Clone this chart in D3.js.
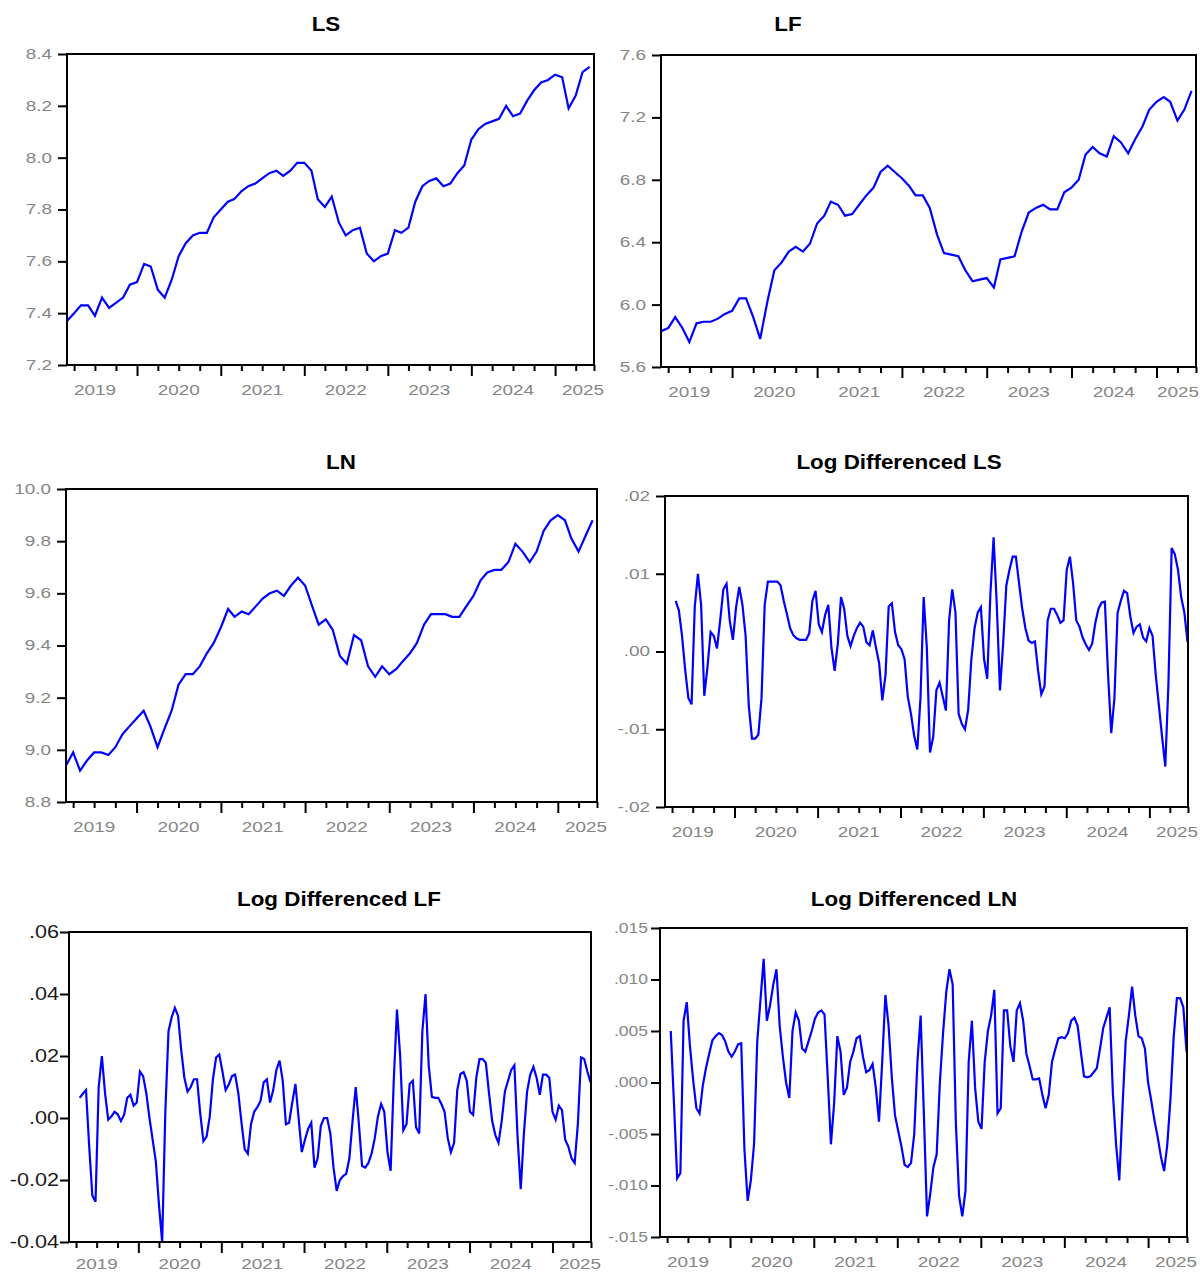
<!DOCTYPE html>
<html>
<head>
<meta charset="utf-8">
<script src="https://cdn.jsdelivr.net/npm/d3@7"></script>
<style>
  body { margin: 0; background: #fff; }
  svg { display: block; }
</style>
</head>
<body>
<svg id="chart" width="1200" height="1272"></svg>
<script>
// ---- Level series (log scale), monthly observations from March 2019 ----
const lsValues = [
  7.37, 7.40, 7.43, 7.43, 7.39, 7.46, 7.42, 7.44, 7.46, 7.51,
  7.52, 7.59, 7.58, 7.49, 7.46, 7.53, 7.62, 7.67, 7.70, 7.71,
  7.71, 7.77, 7.80, 7.83, 7.84, 7.87, 7.89, 7.90, 7.92, 7.94,
  7.95, 7.93, 7.95, 7.98, 7.98, 7.95, 7.84, 7.81, 7.85, 7.75,
  7.70, 7.72, 7.73, 7.63, 7.60, 7.62, 7.63, 7.72, 7.71, 7.73,
  7.83, 7.89, 7.91, 7.92, 7.89, 7.90, 7.94, 7.97, 8.07, 8.11,
  8.13, 8.14, 8.15, 8.20, 8.16, 8.17, 8.22, 8.26, 8.29, 8.30,
  8.32, 8.31, 8.19, 8.24, 8.33, 8.35
];
const lfValues = [
  5.83, 5.85, 5.92, 5.85, 5.76, 5.88, 5.89, 5.89, 5.91, 5.94,
  5.96, 6.04, 6.04, 5.92, 5.78, 6.02, 6.22, 6.27, 6.34, 6.37,
  6.34, 6.39, 6.52, 6.57, 6.66, 6.64, 6.57, 6.58, 6.64, 6.70,
  6.75, 6.85, 6.89, 6.85, 6.81, 6.76, 6.70, 6.70, 6.62, 6.45,
  6.33, 6.32, 6.31, 6.22, 6.15, 6.16, 6.17, 6.11, 6.29, 6.30,
  6.31, 6.47, 6.59, 6.62, 6.64, 6.61, 6.61, 6.72, 6.75, 6.80,
  6.96, 7.01, 6.97, 6.95, 7.08, 7.04, 6.97, 7.06, 7.14, 7.25,
  7.30, 7.33, 7.30, 7.18, 7.25, 7.37
];
const lnValues = [
  8.94, 8.99, 8.92, 8.96, 8.99, 8.99, 8.98, 9.01, 9.06, 9.09,
  9.12, 9.15, 9.09, 9.01, 9.08, 9.15, 9.25, 9.29, 9.29, 9.32,
  9.37, 9.41, 9.47, 9.54, 9.51, 9.53, 9.52, 9.55, 9.58, 9.60,
  9.61, 9.59, 9.63, 9.66, 9.63, 9.55, 9.48, 9.50, 9.46, 9.36,
  9.33, 9.44, 9.42, 9.32, 9.28, 9.32, 9.29, 9.31, 9.34, 9.37,
  9.41, 9.48, 9.52, 9.52, 9.52, 9.51, 9.51, 9.55, 9.59, 9.65,
  9.68, 9.69, 9.69, 9.72, 9.79, 9.76, 9.72, 9.76, 9.84, 9.88,
  9.90, 9.88, 9.81, 9.76, 9.82, 9.88
];

// ---- Log-differenced series, fortnightly observations from mid-April 2019 ----
const dlsValues = [
  .0065, .0053, .0020, -.0024, -.0060, -.0068, .0057, .0100, .0060, -.0057,
  -.0020, .0025, .0020, .0004, .0040, .0080, .0087, .0040, .0015, .0057,
  .0083, .0060, .0020, -.0070, -.0112, -.0112, -.0107, -.0060, .0060, .0090,
  .0090, .0090, .0090, .0085, .0065, .0048, .0030, .0021, .0017, .0015,
  .0015, .0015, .0023, .0065, .0078, .0035, .0025, .0047, .0060, .0005,
  -.0025, .0010, .0070, .0055, .0020, .0007, .0020, .0030, .0037, .0032,
  .0012, .0008, .0027, .0005, -.0015, -.0063, -.0030, .0058, .0062, .0025,
  .0008, .0003, -.0010, -.0058, -.0080, -.0108, -.0126, -.0060, .0070, .0005,
  -.0130, -.0110, -.0050, -.0040, -.0058, -.0076, .0040, .0080, .0050, -.0080,
  -.0093, -.0100, -.0075, -.0010, .0030, .0050, .0057, -.0010, -.0035, .0075,
  .0147, .0060, -.0050, .0010, .0085, .0105, .0122, .0122, .0088, .0055,
  .0030, .0014, .0011, .0013, -.0025, -.0055, -.0045, .0040, .0055, .0055,
  .0047, .0037, .0040, .0105, .0122, .0088, .0040, .0032, .0018, .0009,
  .0002, .0010, .0037, .0055, .0063, .0064, -.0030, -.0105, -.0060, .0050,
  .0065, .0078, .0075, .0045, .0024, .0032, .0035, .0018, .0013, .0030,
  .0020, -.0030, -.0070, -.0110, -.0148, -.0040, .0133, .0125, .0105, .0070,
  .0050, .0012
];
const dlfValues = [
  .0065, .0078, .0090, -.0090, -.0250, -.0270, .0100, .0200, .0080, -.0005,
  .0005, .0020, .0012, -.0010, .0010, .0065, .0075, .0040, .0050, .0150,
  .0135, .0080, .0000, -.0070, -.0140, -.0280, -.0400, .0020, .0280, .0325,
  .0355, .0330, .0220, .0130, .0085, .0100, .0125, .0125, .0015, -.0075,
  -.0060, .0005, .0125, .0195, .0205, .0150, .0090, .0108, .0135, .0140,
  .0080, -.0015, -.0100, -.0115, -.0020, .0020, .0035, .0055, .0115, .0125,
  .0050, .0090, .0155, .0185, .0120, -.0020, -.0015, .0050, .0110, .0000,
  -.0110, -.0070, -.0035, -.0015, -.0160, -.0130, -.0025, .0000, .0000, -.0050,
  -.0160, -.0235, -.0200, -.0187, -.0180, -.0130, -.0010, .0100, -.0020, -.0155,
  -.0160, -.0145, -.0115, -.0065, .0005, .0045, .0020, -.0110, -.0170, .0125,
  .0350, .0200, -.0040, -.0020, .0110, .0120, -.0030, -.0050, .0280, .0400,
  .0170, .0068, .0065, .0065, .0045, .0020, -.0065, -.0110, -.0080, .0090,
  .0142, .0148, .0120, .0020, .0010, .0130, .0190, .0190, .0178, .0080,
  -.0010, -.0055, -.0080, -.0010, .0085, .0120, .0155, .0170, -.0060, -.0230,
  -.0050, .0085, .0140, .0165, .0130, .0075, .0140, .0140, .0130, .0020,
  -.0005, .0040, .0025, -.0070, -.0092, -.0130, -.0145, -.0020, .0195, .0190,
  .0150, .0115
];
const dlnValues = [
  .0050, -.0020, -.0093, -.0088, .0060, .0078, .0035, .0002, -.0025, -.0030,
  -.0003, .0014, .0028, .0041, .0045, .0048, .0046, .0040, .0030, .0025,
  .0030, .0037, .0038, -.0065, -.0115, -.0095, -.0060, .0040, .0080, .0120,
  .0060, .0075, .0095, .0110, .0055, .0025, .0000, -.0015, .0050, .0068,
  .0060, .0033, .0030, .0040, .0050, .0062, .0068, .0070, .0066, .0005,
  -.0060, -.0020, .0045, .0030, -.0012, -.0005, .0020, .0030, .0043, .0045,
  .0025, .0010, .0012, .0018, -.0005, -.0038, .0020, .0085, .0055, .0005,
  -.0032, -.0047, -.0062, -.0080, -.0082, -.0078, -.0050, .0020, .0065, -.0030,
  -.0130, -.0108, -.0082, -.0070, .0000, .0048, .0088, .0110, .0095, -.0040,
  -.0110, -.0130, -.0105, .0020, .0060, -.0005, -.0038, -.0045, .0020, .0050,
  .0065, .0090, -.0030, -.0025, .0070, .0070, .0035, .0020, .0070, .0077,
  .0060, .0028, .0016, .0003, .0003, .0004, -.0012, -.0025, -.0012, .0020,
  .0032, .0043, .0044, .0043, .0048, .0060, .0063, .0055, .0030, .0006,
  .0005, .0006, .0010, .0014, .0033, .0053, .0063, .0073, -.0010, -.0060,
  -.0095, -.0025, .0040, .0065, .0093, .0065, .0045, .0043, .0033, .0000,
  -.0018, -.0037, -.0053, -.0072, -.0086, -.0060, -.0015, .0045, .0082, .0082,
  .0073, .0030
];

// ---- Axis ticks and labels ----
const yearLabels = ["2019", "2020", "2021", "2022", "2023", "2024", "2025"];
const lsTicks = [7.2, 7.4, 7.6, 7.8, 8.0, 8.2, 8.4];
const lsTickLabels = ["7.2", "7.4", "7.6", "7.8", "8.0", "8.2", "8.4"];
const lfTicks = [5.6, 6.0, 6.4, 6.8, 7.2, 7.6];
const lfTickLabels = ["5.6", "6.0", "6.4", "6.8", "7.2", "7.6"];
const lnTicks = [8.8, 9.0, 9.2, 9.4, 9.6, 9.8, 10.0];
const lnTickLabels = ["8.8", "9.0", "9.2", "9.4", "9.6", "9.8", "10.0"];
const dlsTicks = [-0.02, -0.01, 0, 0.01, 0.02];
const dlsTickLabels = ["-.02", "-.01", ".00", ".01", ".02"];
const dlfTicks = [-0.04, -0.02, 0, 0.02, 0.04, 0.06];
const dlfTickLabels = ["-0.04", "-0.02", ".00", ".02", ".04", ".06"];
const dlnTicks = [-0.015, -0.010, -0.005, 0, 0.005, 0.010, 0.015];
const dlnTickLabels = ["-.015", "-.010", "-.005", ".000", ".005", ".010", ".015"];

// observation dates
const levelDates = lsValues.map((_, i) => d3.timeMonth.offset(new Date(2019, 2, 1), i));
const diffDates = dlsValues.map((_, i) => d3.timeDay.offset(new Date(2019, 3, 17), 14 * i));

const xStart = new Date(2019, 2, 1);
const xEnd = new Date(2025, 5, 20);

const WIDTH = 1200, HEIGHT = 1272;
const grayLabel = { size: 14, color: "#858585", sx: 1.35, gap: 15 };

const panels = [
  { title: "LS", tx: 326, ty: 31, values: lsValues, dates: levelDates,
    yDomain: [7.2, 8.4], ticks: lsTicks, tickLabels: lsTickLabels,
    box: { l: 67, t: 54, r: 594, b: 365 }, yLab: grayLabel },
  { title: "LF", tx: 788, ty: 31, values: lfValues, dates: levelDates,
    yDomain: [5.6, 7.6], ticks: lfTicks, tickLabels: lfTickLabels,
    box: { l: 661, t: 55, r: 1196, b: 367 }, yLab: grayLabel },
  { title: "LN", tx: 341, ty: 469, values: lnValues, dates: levelDates,
    yDomain: [8.8, 10.0], ticks: lnTicks, tickLabels: lnTickLabels,
    box: { l: 66, t: 489, r: 597, b: 802 }, yLab: grayLabel },
  { title: "Log Differenced LS", tx: 899, ty: 469, values: dlsValues, dates: diffDates,
    yDomain: [-0.02, 0.02], ticks: dlsTicks, tickLabels: dlsTickLabels,
    box: { l: 665, t: 496, r: 1188, b: 807 }, yLab: grayLabel },
  { title: "Log Differenced LF", tx: 339, ty: 906, values: dlfValues, dates: diffDates,
    yDomain: [-0.04, 0.06], ticks: dlfTicks, tickLabels: dlfTickLabels,
    box: { l: 69, t: 932, r: 591, b: 1242 },
    yLab: { size: 18, color: "#1a1a1a", sx: 1.2, gap: 10 } },
  { title: "Log Differenced LN", tx: 914, ty: 906, values: dlnValues, dates: diffDates,
    yDomain: [-0.015, 0.015], ticks: dlnTicks, tickLabels: dlnTickLabels,
    box: { l: 660, t: 928, r: 1187, b: 1237 }, yLab: { size: 14, color: "#858585", sx: 1.25, gap: 12 } }
];

const svg = d3.select("#chart");
const FONT = "'Liberation Sans', Arial, Helvetica, sans-serif";

// Quarterly ticks along the time axis; January ticks are the long year ticks.
const quarterDates = d3.timeMonth.every(3).range(new Date(2019, 3, 1), new Date(2025, 6, 2));
const minorDates = quarterDates.filter(d => d.getMonth() !== 0);
const majorDates = quarterDates.filter(d => d.getMonth() === 0);

panels.forEach((p, k) => {
  const { l, t, r, b } = p.box;
  const g = svg.append("g");

  const x = d3.scaleTime().domain([xStart, xEnd]).range([l, r]).clamp(true);
  const y = d3.scaleLinear().domain(p.yDomain).range([b, t]);

  // clip for the series line
  const clipId = "clip" + k;
  svg.append("clipPath").attr("id", clipId)
    .append("rect").attr("x", l).attr("y", t).attr("width", r - l).attr("height", b - t);

  const line = d3.line()
    .x((d, i) => x(p.dates[i]))
    .y(d => y(d));

  g.append("path")
    .datum(p.values)
    .attr("clip-path", `url(#${clipId})`)
    .attr("fill", "none")
    .attr("stroke", "#0000ff")
    .attr("stroke-width", 2.2)
    .attr("stroke-linejoin", "miter")
    .attr("d", line);

  // x axis: minor (quarter) and major (year) ticks
  const minorAxis = d3.axisBottom(x).tickValues(minorDates).tickSize(6).tickFormat("");
  const majorAxis = d3.axisBottom(x).tickValues(majorDates).tickSize(11).tickFormat("");
  [minorAxis, majorAxis].forEach(ax => {
    const ga = g.append("g").attr("transform", `translate(0,${b})`).call(ax);
    ga.select(".domain").remove();
    ga.selectAll("line").attr("stroke", "#000").attr("stroke-width", 2);
  });

  // year labels centred within each year, kept inside the page
  const labelHalf = 14 * 0.556 * 4 * grayLabel.sx / 2;
  const labelY = Math.min(b + 30, HEIGHT - 3);
  yearLabels.forEach(yr => {
    const mid = x(new Date(+yr, 6, 1));
    const cx = Math.min(mid, r - 11, WIDTH - labelHalf - 1);
    g.append("text")
      .attr("transform", `translate(${cx},${labelY}) scale(${grayLabel.sx},1)`)
      .attr("text-anchor", "middle")
      .attr("font-family", FONT)
      .attr("font-size", 14)
      .attr("fill", "#858585")
      .text(yr);
  });

  // y axis
  const yAxis = d3.axisLeft(y).tickValues(p.ticks).tickSize(9)
    .tickFormat((d, i) => p.tickLabels[i]);
  const gy = g.append("g").attr("transform", `translate(${l},0)`).call(yAxis);
  gy.select(".domain").remove();
  gy.selectAll("line").attr("stroke", "#000").attr("stroke-width", 2);
  gy.selectAll("text")
    .attr("x", 0)
    .attr("transform", `translate(${-p.yLab.gap},0) scale(${p.yLab.sx},1)`)
    .attr("text-anchor", "end")
    .attr("font-family", FONT)
    .attr("font-size", p.yLab.size)
    .attr("fill", p.yLab.color);

  // frame
  g.append("rect")
    .attr("x", l).attr("y", t)
    .attr("width", r - l).attr("height", b - t)
    .attr("fill", "none")
    .attr("stroke", "#000")
    .attr("stroke-width", 2);

  // title
  g.append("text")
    .attr("transform", `translate(${p.tx},${p.ty}) scale(1.12,1)`)
    .attr("text-anchor", "middle")
    .attr("font-family", FONT)
    .attr("font-weight", "bold")
    .attr("font-size", 20)
    .attr("fill", "#000")
    .text(p.title);
});
</script>
</body>
</html>
